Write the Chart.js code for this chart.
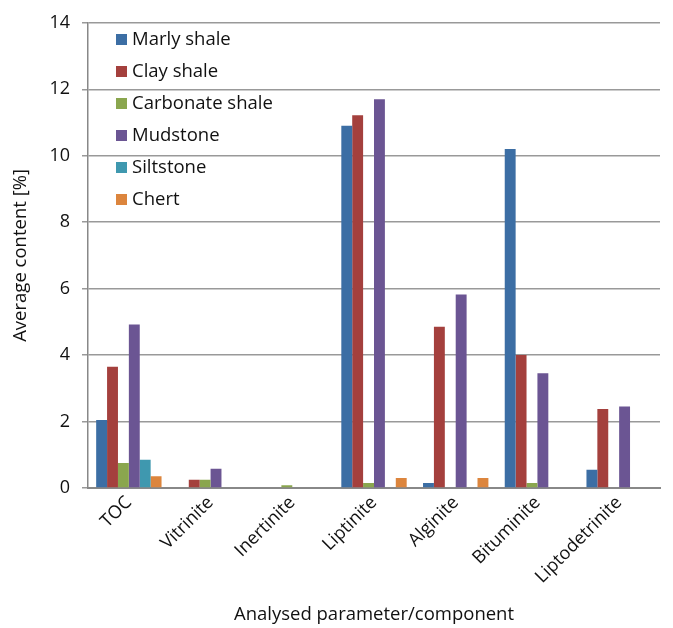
<!DOCTYPE html>
<html>
<head>
<meta charset="utf-8">
<script src="https://cdn.jsdelivr.net/npm/chart.js@4.4.0/dist/chart.umd.min.js"></script>
<style>
body{margin:0;background:#fff}
#wrap{width:673px;height:628px}
</style>
</head>
<body>
<div id="wrap"><canvas id="myChart" width="673" height="628"></canvas></div>
<script>
var categories = ["TOC","Vitrinite","Inertinite","Liptinite","Alginite","Bituminite","Liptodetrinite"]
var marlyShale     = [2.05, 0,    0,    10.9,  0.15, 10.2, 0.55]
var clayShale      = [3.65, 0.25, 0,    11.22, 4.85, 4.0,  2.38]
var carbonateShale = [0.75, 0.25, 0.08, 0.15,  0,    0.15, 0]
var mudstone       = [4.92, 0.58, 0.02, 11.7,  5.82, 3.45, 2.45]
var siltstone      = [0.85, 0,    0,    0,     0,    0,    0]
var chert          = [0.35, 0,    0,    0.3,   0.3,  0,    0]
var yTicks = [0,2,4,6,8,10,12,14]

var font = "'Open Sans', sans-serif"

// legend drawn inside the plot like the excel one (no background, grid shows through)
var boxLegend = {
    id: "boxLegend",
    afterDatasetsDraw(chart){
        const c = chart.ctx
        c.save()
        chart.data.datasets.forEach((ds, i) => {
            let y = 40 + i*32
            c.fillStyle = ds.backgroundColor
            c.fillRect(116, y-6, 11, 11)
            c.fillStyle = "#111"
            c.font = "18.5px " + font
            c.textBaseline = "middle"
            c.fillText(ds.label, 132, y)
        })
        c.restore()
    }
}

const ctx = document.getElementById("myChart")
var chart = new Chart(ctx, {
    type: "bar",
    data: {
        labels: categories,
        datasets: [
            {label:"Marly shale", backgroundColor:"#3C6EA4", data: marlyShale},
            {label:"Clay shale", backgroundColor:"#A4403D", data: clayShale},
            {label:"Carbonate shale", backgroundColor:"#8AA64E", data: carbonateShale},
            {label:"Mudstone", backgroundColor:"#6B5593", data: mudstone},
            {label:"Siltstone", backgroundColor:"#3F98AF", data: siltstone},
            {label:"Chert", backgroundColor:"#DC853D", data: chert}
        ]
    },
    options: {
        responsive: false,
        animation: false,
        devicePixelRatio: 1,
        layout: {padding: {top: 22, right: 13, left: 6, bottom: 0}},
        datasets: {bar: {categoryPercentage: 0.8, barPercentage: 1}},
        plugins: {legend: {display: false}, tooltip: {enabled: false}},
        scales: {
            x: {
                afterFit(axis){ axis.height = 628 - 488 },
                grid: {display: false, drawTicks: false},
                border: {color: "#888", width: 2},
                ticks: {maxRotation: 45, minRotation: 45, color: "#111", font: {family: font, size: 18}, padding: 4},
                title: {display: true, text: "Analysed parameter/component", color: "#111", font: {family: font, size: 18.5}, padding: {top: 0, bottom: 2}}
            },
            y: {
                min: 0, max: 14,
                afterFit(axis){ axis.width = 88 - 6 },
                afterBuildTicks(axis){ axis.ticks = yTicks.map(v => ({value: v})) },
                grid: {color: "#999", lineWidth: 1.5, tickLength: 6, tickColor: "#999"},
                border: {color: "#888", width: 1.5},
                ticks: {color: "#111", font: {family: font, size: 18}, padding: 12},
                title: {display: true, text: "Average content [%]", color: "#111", font: {family: font, size: 18.5}, padding: {bottom: 0}}
            }
        }
    },
    plugins: [boxLegend]
})
</script>
</body>
</html>
